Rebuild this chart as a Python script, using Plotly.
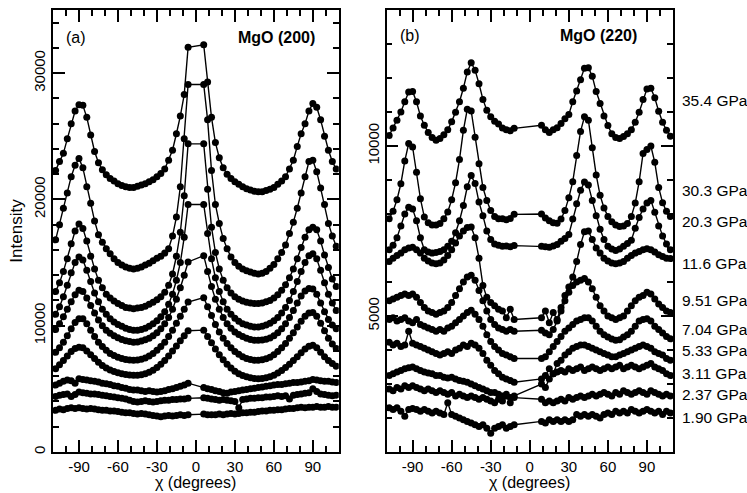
import plotly.graph_objects as go

# azimuth angle chi (degrees); None marks angles with no recorded intensity
chi = list(range(-108, 109, 3))

# ---- MgO (200) intensity vs chi, highest pressure first ----
i200_354 = [22300, 23000, 23650, 24800, 26000, 27000, 27500, 27450, 26500, 25100, 23800, 22900, 22350, 21950, 21650, 21450, 21250, 21100, 21000, 20950, 20950, 21050, 21150, 21250, 21400, 21550, 21800, 22050, 22400, 23100, 23900, 25200, 26600, 28300, 32050, None, None, None, 32250, 29300, 26500, 24500, 23300, 22500, 22000, 21650, 21400, 21200, 21000, 20850, 20750, 20650, 20600, 20600, 20700, 20800, 20950, 21200, 21450, 21800, 22400, 23100, 24200, 25200, 26000, 27000, 27600, 27300, 26300, 25000, 23900, 23000, 22400]
i200_303 = [16800, 18000, 19300, 20500, 21800, 22700, 23250, 22500, 21000, 19700, 18300, 17200, 16600, 16100, 15700, 15300, 15000, 14800, 14650, 14550, 14500, 14550, 14650, 14800, 14950, 15150, 15350, 15500, 15750, 16100, 17100, 18600, 21000, 24800, 29100, None, None, None, 29100, 26300, 22300, 19600, 18100, 16900, 16100, 15450, 15000, 14700, 14500, 14350, 14250, 14150, 14100, 14150, 14300, 14550, 14850, 15300, 15800, 16400, 17300, 18200, 19300, 20500, 21800, 23000, 23100, 22200, 20900, 19600, 18100, 17100, 16300]
i200_203 = [12700, 13400, 14300, 15300, 16500, 17500, 18050, 17700, 16700, 15500, 14500, 13600, 13000, 12500, 12200, 11950, 11750, 11600, 11450, 11400, 11350, 11400, 11450, 11550, 11700, 11850, 12050, 12300, 12650, 13200, 14100, 15500, 17400, 20300, 24400, None, None, None, 24400, 20800, 17800, 15800, 14500, 13600, 13000, 12600, 12300, 12100, 11950, 11850, 11800, 11750, 11750, 11800, 11900, 12000, 12200, 12450, 12800, 13250, 13800, 14500, 15300, 16200, 17000, 17600, 17800, 17600, 16700, 15600, 14600, 13700, 13100]
i200_116 = [10900, 11500, 12300, 13200, 14200, 15000, 15450, 15200, 14400, 13500, 12600, 11900, 11300, 10900, 10550, 10300, 10100, 9950, 9800, 9700, 9650, 9650, 9700, 9800, 9950, 10150, 10400, 10700, 11100, 11700, 12500, 13600, 15000, 17000, 19600, None, None, None, 19600, 17300, 15300, 13800, 12700, 11900, 11300, 10900, 10600, 10350, 10150, 10050, 9950, 9900, 9900, 9950, 10050, 10200, 10400, 10650, 11000, 11450, 12000, 12700, 13500, 14300, 15000, 15550, 15700, 15300, 14400, 13400, 12500, 11800, 11200]
i200_951 = [9700, 10150, 10700, 11300, 11900, 12450, 12800, 12700, 12200, 11600, 11000, 10450, 10000, 9650, 9400, 9200, 9050, 8900, 8800, 8750, 8700, 8720, 8780, 8880, 9000, 9200, 9450, 9750, 10150, 10650, 11300, 12100, 13000, 14000, 15050, None, None, None, 15550, 14300, 13100, 12100, 11300, 10650, 10150, 9800, 9500, 9300, 9150, 9000, 8900, 8850, 8840, 8860, 8920, 9020, 9200, 9450, 9750, 10150, 10650, 11200, 11800, 12350, 12750, 12950, 12900, 12500, 11800, 11100, 10500, 10050, 9750]
i200_704 = [7900, 8250, 8700, 9200, 9750, 10250, 10550, 10550, 10150, 9650, 9150, 8700, 8350, 8050, 7800, 7650, 7500, 7400, 7320, 7280, 7260, 7280, 7350, 7450, 7600, 7800, 8050, 8350, 8700, 9150, 9650, 10200, 10750, 11300, 11880, None, None, None, 12220, 11500, 10800, 10100, 9500, 9000, 8600, 8250, 7950, 7750, 7550, 7400, 7320, 7270, 7260, 7300, 7380, 7500, 7700, 7950, 8250, 8600, 9000, 9450, 9900, 10350, 10750, 11000, 11050, 10750, 10200, 9600, 9000, 8550, 8200]
i200_533 = [6600, 6900, 7250, 7600, 7950, 8200, 8300, 8250, 8000, 7700, 7400, 7100, 6850, 6650, 6500, 6380, 6280, 6200, 6130, 6090, 6070, 6080, 6120, 6200, 6320, 6480, 6700, 6950, 7250, 7600, 8000, 8400, 8800, 9200, 9600, None, None, None, 9650, 9150, 8650, 8150, 7700, 7300, 6950, 6650, 6400, 6200, 6050, 5950, 5870, 5830, 5810, 5830, 5880, 5960, 6080, 6250, 6450, 6700, 6950, 7250, 7550, 7850, 8150, 8380, 8450, 8250, 7900, 7550, 7250, 7000, 6800]
i200_311 = [5300, 5450, 5600, 5700, 5650, 5450, 5800, 5750, 5700, 5650, 5600, 5550, 5450, 5400, 5350, 5250, 5200, 5100, 5050, 4950, 4900, 4900, 4850, 4800, 4850, 4800, 4750, 4800, 4850, 4950, 5000, 5100, 5200, 5300, 5450, None, None, None, 5100, 5000, 4950, 4850, 4800, 4700, 4650, 4750, 4800, 4850, 4900, 4950, 5000, 5050, 5100, 5150, 5200, 5250, 5300, 5350, 5350, 5400, 5450, 5500, 5500, 5550, 5600, 5650, 5750, 5700, 5650, 5600, 5600, 5550, 5500]
i200_237 = [4400, 4500, 4550, 4600, 4400, 4550, 4750, 4700, 4650, 4600, 4600, 4550, 4500, 4450, 4400, 4350, 4300, 4250, 4200, 4100, 4000, 3950, 4000, 4050, 4000, 3950, 4000, 4050, 4100, 4100, 4150, 4150, 4200, 4200, 4250, None, None, None, 4300, 4250, 4200, 4150, 4100, 4150, 4100, 4050, 4000, 3500, 4150, 4200, 4250, 4250, 4300, 4300, 4350, 4350, 4400, 4450, 4400, 4450, 4200, 4500, 4550, 4600, 4650, 4700, 5000, 4800, 4600, 4550, 4500, 4450, 4500]
i200_190 = [3300, 3400, 3350, 3450, 3500, 3450, 3500, 3450, 3400, 3450, 3400, 3350, 3300, 3300, 3250, 3250, 3200, 3150, 3100, 3100, 3050, 3000, 3050, 3000, 2950, 2900, 2850, 2800, 2850, 2900, 2850, 2900, 2950, 2900, 2950, None, None, None, 3000, 2950, 2950, 2950, 3000, 2950, 3000, 3050, 3000, 3050, 3100, 3100, 3150, 3150, 3200, 3250, 3250, 3300, 3300, 3350, 3350, 3400, 3450, 3450, 3500, 3550, 3500, 3550, 3550, 3600, 3550, 3550, 3600, 3550, 3550]

# ---- MgO (220) intensity vs chi, highest pressure first ----
N6 = [None] * 6
i220_354 = [10310, 10530, 10760, 11000, 11300, 11590, 11600, 11300, 10880, 10610, 10400, 10250, 10170, 10220, 10330, 10480, 10710, 10990, 11300, 11700, 12180, 12450, 12230, 11830, 11370, 11050, 10860, 10730, 10650, 10530, 10480, 10450, 10520] + N6 + [10610, 10480, 10400, 10480, 10540, 10660, 10800, 10930, 11300, 11620, 11950, 12290, 12300, 12050, 11600, 11250, 10880, 10600, 10360, 10250, 10220, 10280, 10360, 10480, 10700, 10990, 11370, 11680, 11700, 11420, 11020, 10700, 10460, 10290]
i220_303 = [7860, 8080, 8420, 8890, 9560, 10070, 9970, 9230, 8450, 7910, 7740, 7680, 7680, 7720, 7860, 8060, 8420, 8920, 9600, 10460, 11080, 11030, 10260, 9480, 8780, 8400, 8100, 7930, 7860, 7860, 7830, 7870, 7990] + N6 + [8000, 7880, 7800, 7740, 7730, 7850, 8100, 8480, 8950, 9720, 10430, 10860, 10760, 9950, 9150, 8550, 8180, 7930, 7770, 7680, 7630, 7650, 7720, 7930, 8320, 8950, 9780, 9900, 10000, 9520, 8780, 8330, 8080, 7930]
i220_203 = [6950, 7080, 7300, 7650, 8000, 8200, 8150, 7800, 7300, 6950, 6880, 6850, 6870, 6900, 6950, 7050, 7200, 7450, 7800, 8250, 8800, 9130, 8900, 8350, 7950, 7500, 7250, 7120, 7080, 7050, 7060, 7040, 7070] + N6 + [7050, 7040, 7020, 7060, 7100, 7200, 7280, 7400, 7850, 8300, 8700, 8940, 8850, 8400, 7950, 7550, 7250, 7050, 6970, 6930, 6970, 7050, 7130, 7230, 7580, 7900, 8150, 8320, 8400, 8050, 7650, 7350, 7120, 6950]
i220_116 = [6600, 6700, 6780, 6850, 6950, 7000, 7020, 6950, 6850, 6700, 6620, 6560, 6540, 6560, 6650, 6780, 6950, 7150, 7350, 7500, 7600, 7620, 7300, 6700, 5900, 5550, 5400, 5300, 5200, 5150, 4950, 5200, 4900] + N6 + [4950, 5150, 4800, 5100, 4900, 5250, 5600, 5850, 6150, 6600, 7100, 7480, 7500, 7250, 7000, 6850, 6700, 6620, 6560, 6540, 6560, 6600, 6700, 6780, 6850, 6900, 6950, 6980, 6950, 6880, 6800, 6750, 6700, 6690]
i220_951 = [5450, 5500, 5550, 5600, 5650, 5600, 5650, 5550, 5400, 5250, 5150, 5100, 5050, 5100, 5150, 5250, 5400, 5600, 5800, 6000, 6150, 6200, 6050, 5750, 5450, 5150, 4900, 4750, 4650, 4600, 4550, 4600, 4550] + N6 + [4580, 4500, 4450, 4600, 4850, 5150, 5450, 5700, 5900, 6000, 6050, 6100, 6000, 5800, 5550, 5300, 5150, 5000, 4950, 4900, 4950, 5000, 5150, 5300, 5450, 5550, 5600, 5700, 5650, 5500, 5350, 5250, 5150, 5100]
i220_704 = [4900, 4950, 4850, 4900, 4950, 4850, 4800, 4900, 4750, 4700, 4650, 4600, 4550, 4600, 4550, 4650, 4700, 4800, 4900, 5000, 5100, 5170, 5050, 4900, 4700, 4450, 4250, 4100, 4000, 3900, 3850, 3800, 3750] + N6 + [3750, 3800, 3950, 4100, 4250, 4400, 4550, 4650, 4750, 4850, 4900, 4950, 4950, 4850, 4700, 4550, 4450, 4380, 4320, 4290, 4300, 4380, 4450, 4550, 4700, 4850, 4900, 4920, 4850, 4700, 4600, 4500, 4400, 4330]
i220_533 = [4230, 4150, 4200, 4100, 4150, 4550, 4200, 4150, 4100, 4050, 4000, 3950, 3900, 3850, 3900, 3950, 3900, 4000, 4050, 4150, 4100, 4200, 4150, 4050, 3900, 3700, 3550, 3400, 3300, 3200, 3150, 3100, 3050] + N6 + [3150, 3250, 3450, 3300, 3600, 3700, 3850, 3950, 4050, 4100, 4150, 4150, 4100, 4050, 4000, 3950, 3900, 3850, 3800, 3800, 3850, 3900, 3950, 4000, 4050, 4100, 4150, 4100, 4050, 3950, 3900, 3850, 3750, 3700]
i220_311 = [3250, 3300, 3350, 3400, 3450, 3480, 3500, 3450, 3400, 3350, 3320, 3300, 3250, 3250, 3200, 3180, 3200, 3150, 3100, 3080, 3050, 3000, 2950, 2900, 2850, 2800, 2750, 2750, 2700, 2650, 2650, 2600, 2650] + N6 + [3000, 2900, 3150, 3300, 3350, 3400, 3350, 3450, 3400, 3450, 3500, 3400, 3450, 3500, 3450, 3400, 3450, 3500, 3450, 3500, 3550, 3450, 3500, 3550, 3500, 3450, 3500, 3550, 3600, 3500, 3450, 3400, 3300, 3250]
i220_237 = [2850, 2800, 2900, 2850, 2950, 2900, 2950, 2900, 2850, 2800, 2850, 2800, 2750, 2800, 2750, 2700, 2750, 2650, 2700, 2650, 2600, 2650, 2600, 2550, 2600, 2550, 2500, 2450, 2550, 2500, 2700, 2450, 2600] + N6 + [2550, 2450, 2500, 2450, 2500, 2550, 2500, 2600, 2550, 2600, 2650, 2600, 2650, 2700, 2650, 2700, 2750, 2700, 2650, 2750, 2700, 2800, 2750, 2700, 2750, 2800, 2750, 2700, 2800, 2750, 2700, 2650, 2700, 2650]
i220_190 = [2300, 2250, 2300, 2200, 2050, 2250, 2280, 2250, 2200, 2250, 2200, 2150, 2200, 2150, 2100, 2450, 2100, 2050, 2000, 1950, 1900, 1850, 1800, 1750, 1800, 1700, 1550, 1700, 1750, 1800, 1700, 1750, 1800] + N6 + [1900, 1850, 1950, 1900, 1950, 1900, 1950, 1900, 1950, 2100, 2050, 2100, 2050, 2100, 2050, 2000, 2100, 2150, 2100, 2200, 2150, 2200, 2150, 2250, 2200, 2150, 2200, 2250, 2200, 2150, 2200, 2100, 2200, 2150]

pressures = ["35.4 GPa", "30.3 GPa", "20.3 GPa", "11.6 GPa", "9.51 GPa",
             "7.04 GPa", "5.33 GPa", "3.11 GPa", "2.37 GPa", "1.90 GPa"]
series_200 = [i200_354, i200_303, i200_203, i200_116, i200_951,
              i200_704, i200_533, i200_311, i200_237, i200_190]
series_220 = [i220_354, i220_303, i220_203, i220_116, i220_951,
              i220_704, i220_533, i220_311, i220_237, i220_190]

chi_ticks = [-90, -60, -30, 0, 30, 60, 90]

for s in series_200 + series_220:
    assert len(s) == len(chi), len(s)

FONT = "Liberation Sans, Arial, Helvetica, sans-serif"

fig = go.Figure()
for vals, p in zip(series_200, pressures):
    fig.add_trace(go.Scatter(
        x=chi, y=vals, name=p, xaxis="x", yaxis="y", mode="lines+markers",
        connectgaps=True, line=dict(color="black", width=1.4),
        marker=dict(color="black", size=7), cliponaxis=True))
for vals, p in zip(series_220, pressures):
    fig.add_trace(go.Scatter(
        x=chi, y=vals, name=p, xaxis="x2", yaxis="y2", mode="lines+markers",
        connectgaps=True, line=dict(color="black", width=1.4),
        marker=dict(color="black", size=7), cliponaxis=True))

axis_common = dict(
    showline=True, linecolor="black", linewidth=1.8, mirror="ticks",
    ticks="inside", ticklen=12, tickwidth=1.7, tickcolor="black",
    showgrid=False, zeroline=False, automargin=False,
    tickfont=dict(family=FONT, size=15, color="black"))

minor_style = dict(ticks="inside", ticklen=6, tickwidth=1.5, tickcolor="black",
                   showgrid=False)

x_common = dict(
    axis_common, range=[-110, 110], tickmode="array", tickvals=chi_ticks,
    ticktext=[str(t) for t in chi_ticks], ticklabelstandoff=0,
    minor=dict(minor_style, tickmode="array", tickvals=list(range(-110, 111, 10))))

fig.update_layout(
    width=747, height=493, showlegend=False,
    paper_bgcolor="white", plot_bgcolor="white",
    margin=dict(l=53, r=74, t=10, b=41),
    xaxis=dict(x_common, domain=[0, 0.461], anchor="y"),
    xaxis2=dict(x_common, domain=[0.538, 1], anchor="y2"),
    yaxis=dict(axis_common, range=[0, 35000], anchor="x", tickangle=-90,
               tickmode="array", tickvals=[0, 10000, 20000, 30000],
               ticktext=["0", "10000", "20000", "30000"],
               minor=dict(minor_style, dtick=2000),
               title=dict(text="Intensity", font=dict(family=FONT, size=17, color="black"),
                          standoff=4)),
    yaxis2=dict(axis_common, range=[1000, 14000], anchor="x2", tickangle=-90,
                tickmode="array", tickvals=[5000, 10000], ticktext=["5000", "10000"],
                minor=dict(minor_style, dtick=1000)),
)

# x-axis titles under each panel
title_font = dict(family=FONT, size=16, color="black")
for xr in ("x", "x2"):
    fig.add_annotation(x=0, y=-0.068, xref=xr, yref="paper", text="χ (degrees)",
                       showarrow=False, yanchor="middle", font=title_font)

label_font = dict(family=FONT, size=16, color="black")
fig.add_annotation(x=-92, y=32800, xref="x", yref="y", text="(a)", showarrow=False,
                   font=label_font)
fig.add_annotation(x=93, y=32850, xref="x", yref="y", text="<b>MgO (200)</b>",
                   showarrow=False, xanchor="right", font=label_font)
fig.add_annotation(x=-92, y=13250, xref="x2", yref="y2", text="(b)", showarrow=False,
                   font=label_font)
fig.add_annotation(x=84, y=13250, xref="x2", yref="y2", text="<b>MgO (220)</b>",
                   showarrow=False, xanchor="right", font=label_font)

# pressure labels beside the (220) panel
label_levels = [11344, 8691, 7765, 6541, 5462, 4600, 3985, 3306, 2697, 2029]
for p, lv in zip(pressures, label_levels):
    fig.add_annotation(x=1.012, y=lv, xref="paper", yref="y2", text=p,
                       showarrow=False, xanchor="left",
                       font=dict(family=FONT, size=15.5, color="black"))

fig.write_html("out.html")
